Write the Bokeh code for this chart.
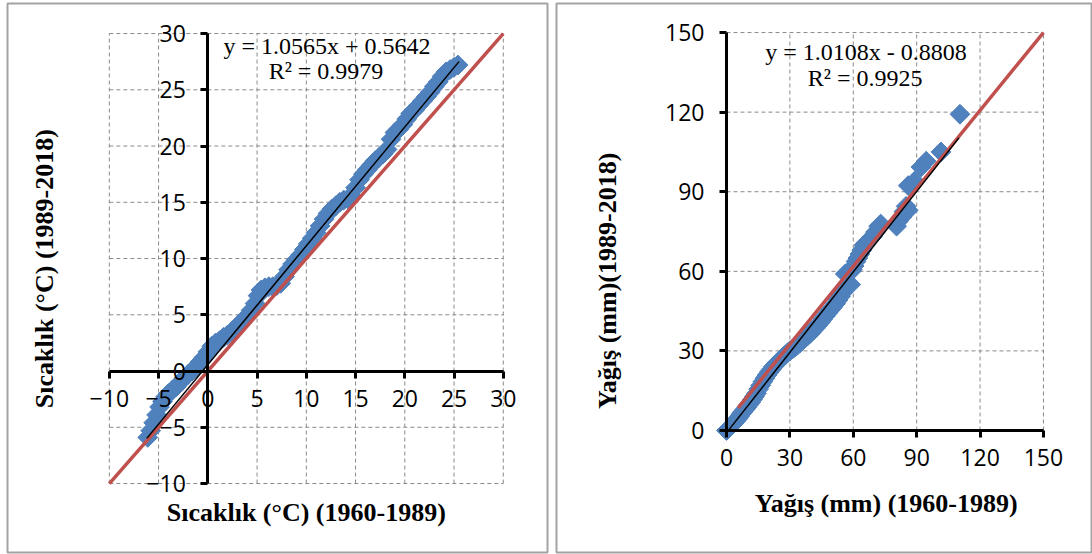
import math
from bokeh.plotting import figure
from bokeh.models import LinearAxis, FixedTicker, Range1d, Label
from bokeh.layouts import row
from bokeh.embed import file_html
from bokeh.resources import INLINE

# ---------------- Temperature panel data (°C) ----------------
temp_x = [-6.1, -5.8, -5.5, -5.2, -4.9, -4.6, -4.3, -4.0, -3.6, -3.2, -2.8, -2.4,
          -2.0, -1.6, -1.2, -0.8, -0.4, 0.0, 0.4, 0.8, 1.2, 1.6, 2.0, 2.4, 2.8,
          3.2, 3.6, 4.0, 4.4, 4.8, 5.1, 5.4, 5.8, 6.2, 6.6, 7.0, 7.4, 7.8, 8.2,
          8.6, 9.0, 9.4, 9.8, 10.2, 10.6, 11.0, 11.4, 11.8, 12.2, 12.6, 13.0,
          13.4, 13.8, 14.2, 14.6, 15.0, 15.4, 15.8, 16.2, 16.6, 17.0, 17.4,
          17.8, 18.2, 18.6, 19.0, 19.4, 19.8, 20.2, 20.6, 21.0, 21.4, 21.8,
          22.2, 22.6, 23.0, 23.4, 23.8, 24.2, 24.6, 25.0, 25.4]
temp_y = [-5.9, -5.3, -4.6, -3.9, -3.2, -2.7, -2.3, -2.0, -1.7, -1.4, -1.0, -0.6,
          -0.3, 0.0, 0.4, 0.8, 1.2, 1.7, 2.2, 2.5, 2.7, 3.0, 3.2, 3.5, 3.8,
          4.2, 4.5, 4.9, 5.4, 6.0, 6.7, 7.2, 7.4, 7.5, 7.5, 7.6, 7.8, 8.4, 9.0,
          9.5, 9.9, 10.3, 10.8, 11.3, 11.8, 12.3, 12.9, 13.5, 14.0, 14.4, 14.7,
          15.0, 15.2, 15.3, 15.6, 16.3, 17.0, 17.5, 17.9, 18.3, 18.7, 19.0,
          19.3, 19.7, 20.6, 21.2, 21.5, 21.9, 22.4, 22.9, 23.2, 23.6, 24.0,
          24.4, 24.8, 25.3, 25.7, 26.2, 26.6, 26.8, 27.0, 27.2]
temp_ticks = [-10, -5, 0, 5, 10, 15, 20, 25, 30]
temp_slope, temp_intercept, temp_r2 = 1.0565, 0.5642, 0.9979
temp_fit_x = [-6.2, 25.5]
temp_ref_x = [-10, 30]
temp_ref_y = [-10, 30]

# ---------------- Precipitation panel data (mm) ----------------
prec_x = [0.0, 0.3, 0.8, 1.5, 2.2, 3.0, 3.8, 4.6, 5.4, 6.2, 7.0, 7.8, 8.7, 9.6,
          10.5, 11.4, 12.3, 13.2, 14.2, 15.2, 16.2, 17.2, 18.2, 19.2, 20.2,
          21.2, 22.2, 23.3, 24.4, 25.5, 26.6, 27.7, 28.8, 30.0, 31.2, 32.4,
          33.6, 34.8, 36.0, 37.2, 38.4, 39.6, 40.8, 42.0, 43.2, 44.4, 45.6,
          46.8, 48.0, 49.2, 50.4, 51.6, 52.8, 54.0, 55.2, 56.2, 56.4, 57.2,
          58.8, 59.6, 60.4, 61.3, 62.2, 63.1, 64.0, 65.0, 66.2, 67.5, 69.0,
          70.5, 72.0, 73.0, 80.5, 81.5, 83.0, 84.0, 85.0, 86.0, 86.0, 89.0,
          92.0, 94.5, 101.5, 110.5]
prec_y = [0.0, 0.2, 0.6, 1.2, 1.7, 2.4, 3.1, 3.8, 4.5, 5.4, 6.3, 7.1, 7.9, 8.8,
          9.7, 10.6, 11.7, 12.8, 14.0, 15.6, 17.0, 18.4, 19.7, 20.9, 22.0,
          23.0, 24.0, 25.0, 25.9, 26.7, 27.5, 28.4, 29.2, 30.0, 30.7, 31.4,
          32.2, 33.0, 33.9, 34.8, 35.7, 36.6, 37.6, 38.6, 39.7, 40.8, 42.0,
          43.2, 44.4, 45.5, 46.6, 47.8, 49.2, 50.6, 52.2, 59.0, 53.8, 55.2,
          55.0, 60.5, 62.0, 63.7, 65.0, 66.5, 68.0, 69.8, 70.8, 71.8, 73.0,
          74.8, 77.0, 77.8, 77.0, 79.0, 80.5, 82.5, 84.5, 83.0, 92.3, 94.0,
          99.3, 101.5, 105.0, 119.2]
prec_ticks = [0, 30, 60, 90, 120, 150]
prec_slope, prec_intercept, prec_r2 = 1.0108, -0.8808, 0.9925
prec_fit_x = [1.0, 110.0]
prec_ref_x = [5.5, 150]
prec_ref_y = [8.5, 150]

BLUE = "#4F81BD"
RED = "#C0504D"
GRID = "#8a8a8a"
TICK_FONT = "Open Sans"
SERIF = "Liberation Serif"


def make_panel(width, xr, yr, borders, ticks, xs, ys, fit_x, slope, intercept, r2,
               ref_x, ref_y, eq_pos, r2_pos, xtitle, xtitle_pos, ytitle, ytitle_pos):
    p = figure(width=width, height=554, x_range=Range1d(*xr), y_range=Range1d(*yr),
               x_axis_location=None, y_axis_location=None, toolbar_location=None,
               output_backend="svg", min_border_left=borders[0],
               min_border_right=borders[1], min_border_top=borders[2],
               min_border_bottom=borders[3], outline_line_color="#a3a3a3",
               outline_line_width=2, background_fill_color="white",
               border_fill_color="white")
    p.grid.grid_line_color = None
    lo, hi = min(ticks), max(ticks)
    # dashed grid box
    p.segment(x0=ticks, y0=[lo] * len(ticks), x1=ticks, y1=[hi] * len(ticks),
              line_color=GRID, line_width=1, line_dash="4 3")
    p.segment(x0=[lo] * len(ticks), y0=ticks, x1=[hi] * len(ticks), y1=ticks,
              line_color=GRID, line_width=1, line_dash="4 3")
    # data
    p.scatter(xs, ys, marker="square", angle=math.pi / 4, size=14,
              fill_color=BLUE, line_color=BLUE)
    p.line(ref_x, ref_y, line_color=RED, line_width=3.5)
    fy = [slope * v + intercept for v in fit_x]
    p.line(fit_x, fy, line_color="black", line_width=1.5)

    common = dict(axis_line_width=3, axis_line_color="black", major_tick_line_width=3,
                  major_tick_line_color="black", major_tick_out=7, major_tick_in=0,
                  minor_tick_line_color=None, major_label_text_font=TICK_FONT,
                  major_label_text_font_size="23px", major_label_text_color="black",
                  bounds=(lo, hi))
    xa = LinearAxis(fixed_location=0, ticker=FixedTicker(ticks=ticks),
                    major_label_standoff=12, **common)
    ya = LinearAxis(fixed_location=0, ticker=FixedTicker(ticks=ticks),
                    major_label_standoff=15, **common)
    p.add_layout(xa, "below")
    p.add_layout(ya, "left")

    sign = "+" if intercept >= 0 else "-"
    eq = f"y = {slope:.4f}x {sign} {abs(intercept):.4f}"
    p.add_layout(Label(x=eq_pos[0], y=eq_pos[1], text=eq, text_font=SERIF,
                       text_font_size="24px", text_align="center",
                       text_baseline="middle", text_color="black"))
    p.add_layout(Label(x=r2_pos[0], y=r2_pos[1], text=f"R² = {r2:.4f}", text_font=SERIF,
                       text_font_size="24px", text_align="center",
                       text_baseline="middle", text_color="black"))
    p.add_layout(Label(x=xtitle_pos[0], y=xtitle_pos[1], text=xtitle, text_font=SERIF,
                       text_font_size="26px", text_font_style="bold",
                       text_align="center", text_baseline="middle",
                       text_color="black"))
    p.add_layout(Label(x=ytitle_pos[0], y=ytitle_pos[1], text=ytitle, text_font=SERIF,
                       text_font_size="26px", text_font_style="bold",
                       text_align="center", text_baseline="middle",
                       text_color="black", angle=math.pi / 2))
    return p


p1 = make_panel(552, (-20.34, 34.49), (-16.13, 32.67), (7, 5, 3, 2), temp_ticks,
                temp_x, temp_y, temp_fit_x, temp_slope, temp_intercept, temp_r2,
                temp_ref_x, temp_ref_y, (12.1, 28.9), (12.0, 26.7),
                "Sıcaklık (°C) (1960-1989)", (10.0, -12.6),
                "Sıcaklık (°C) (1989-2018)", (-16.6, 9.1))
p2 = make_panel(540, (-80.45, 173.21), (-45.99, 160.95), (4, 0, 3, 2), prec_ticks,
                prec_x, prec_y, prec_fit_x, prec_slope, prec_intercept, prec_r2,
                prec_ref_x, prec_ref_y, (66.0, 142.6), (65.6, 132.7),
                "Yağış (mm) (1960-1989)", (75.6, -27.6),
                "Yağış (mm)(1989-2018)", (-56.3, 56.4))

layout = row(p1, p2, spacing=0)
open("out.html", "w").write(file_html(layout, INLINE))
